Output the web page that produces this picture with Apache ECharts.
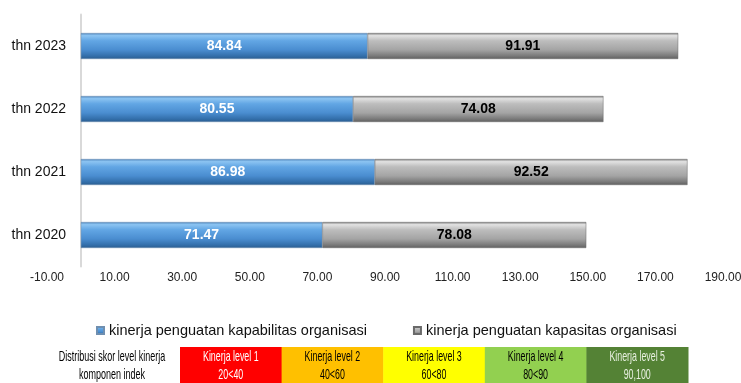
<!DOCTYPE html>
<html>
<head>
<meta charset="utf-8">
<script src="https://cdn.jsdelivr.net/npm/echarts@6/dist/echarts.min.js"></script>
<style>html,body{margin:0;padding:0;background:#fff}#c{width:741px;height:383px}</style>
</head>
<body>
<div id="c"></div>
<script>
const categories = ['thn 2020', 'thn 2021', 'thn 2022', 'thn 2023'];
const seriesNames = ['kinerja penguatan kapabilitas organisasi', 'kinerja penguatan kapasitas organisasi'];
const kapabilitas = [71.47, 86.98, 80.55, 84.84];
const kapasitas = [78.08, 92.52, 74.08, 91.91];
const xMin = -10, xMax = 190, xStep = 20;
const levelNames = ['Kinerja level 1', 'Kinerja level 2', 'Kinerja level 3', 'Kinerja level 4', 'Kinerja level 5'];
const levelRanges = ['20<40', '40<60', '60<80', '80<90', '90,100'];
const levelColors = ['#ff0000', '#ffc000', '#ffff00', '#92d050', '#548235'];
const levelTextColors = ['#ffffff', '#000000', '#000000', '#000000', '#e8f0e0'];
const tableCaption = ['Distribusi skor level kinerja', 'komponen indek'];

const chart = echarts.init(document.getElementById('c'), null, {renderer: 'canvas'});
const G = echarts.graphic;
const blueGrad = new G.LinearGradient(0, 0, 0, 1, [
  {offset: 0, color: '#4f86bd'},
  {offset: 0.1, color: '#8cc4f2'},
  {offset: 0.3, color: '#62a6e4'},
  {offset: 0.65, color: '#4a8dd0'},
  {offset: 0.88, color: '#336fab'},
  {offset: 1, color: '#2a5d8f'}
]);
const grayGrad = new G.LinearGradient(0, 0, 0, 1, [
  {offset: 0, color: '#7d7d7d'},
  {offset: 0.1, color: '#e2e2e2'},
  {offset: 0.3, color: '#bdbdbd'},
  {offset: 0.65, color: '#a4a4a4'},
  {offset: 0.88, color: '#7a7a7a'},
  {offset: 1, color: '#5f5f5f'}
]);

const FONT = '"Liberation Sans", Arial, sans-serif';
const graphics = [];
const tx0 = 180, cellW = 101.6, ty0 = 347, th = 36;
levelNames.forEach((n, i) => {
  graphics.push({type: 'rect', left: tx0 + i * cellW, top: ty0, shape: {width: cellW + 0.5, height: th}, style: {fill: levelColors[i]}, silent: true});
  [n, levelRanges[i]].forEach((t, j) => {
    graphics.push({type: 'text', x: tx0 + i * cellW + cellW / 2, y: 356.5 + j * 18.5, scaleX: 0.59,
      style: {text: t, fill: levelTextColors[i], font: '15px ' + FONT, align: 'center', verticalAlign: 'middle'}, silent: true});
  });
});
tableCaption.forEach((t, j) => {
  graphics.push({type: 'text', x: 112, y: 356.5 + j * 18.5, scaleX: 0.6,
    style: {text: t, fill: '#000', font: '15px ' + FONT, align: 'center', verticalAlign: 'middle'}, silent: true});
});

chart.setOption({
  animation: false,
  backgroundColor: '#fff',
  grid: {left: 47, right: 18, top: 14.5, bottom: 116.5, containLabel: false, outerBoundsMode: 'none'},
  legend: {
    left: 91, top: 318, width: 700, itemWidth: 7, itemHeight: 7, itemGap: 46, icon: 'rect',
    textStyle: {fontFamily: FONT, fontSize: 14.5, color: '#111'},
    data: seriesNames
  },
  xAxis: {
    type: 'value', min: xMin, max: xMax, interval: xStep,
    axisLine: {show: false}, axisTick: {show: false}, splitLine: {show: false},
    axisLabel: {formatter: v => v.toFixed(2), fontFamily: FONT, fontSize: 12, color: '#222', margin: 5}
  },
  yAxis: {
    type: 'category', data: categories,
    axisLine: {show: true, onZero: true, lineStyle: {color: '#d9d9d9', width: 2}},
    axisTick: {show: false},
    axisLabel: {fontFamily: FONT, fontSize: 14, color: '#111', margin: -19}
  },
  series: [
    {name: seriesNames[0], type: 'bar', stack: 'a', data: kapabilitas, barWidth: 26,
      itemStyle: {color: blueGrad, borderColor: '#6f8fb0', borderWidth: 0.5},
      label: {show: true, position: 'inside', color: '#fff', fontWeight: 'bold', fontSize: 14, fontFamily: FONT, formatter: p => p.value.toFixed(2)}},
    {name: seriesNames[1], type: 'bar', stack: 'a', data: kapasitas, barWidth: 26,
      itemStyle: {color: grayGrad, borderColor: '#6a6a6a', borderWidth: 0.5},
      label: {show: true, position: 'inside', color: '#000', fontWeight: 'bold', fontSize: 14, fontFamily: FONT, formatter: p => p.value.toFixed(2)}}
  ],
  graphic: graphics
});
</script>
</body>
</html>
